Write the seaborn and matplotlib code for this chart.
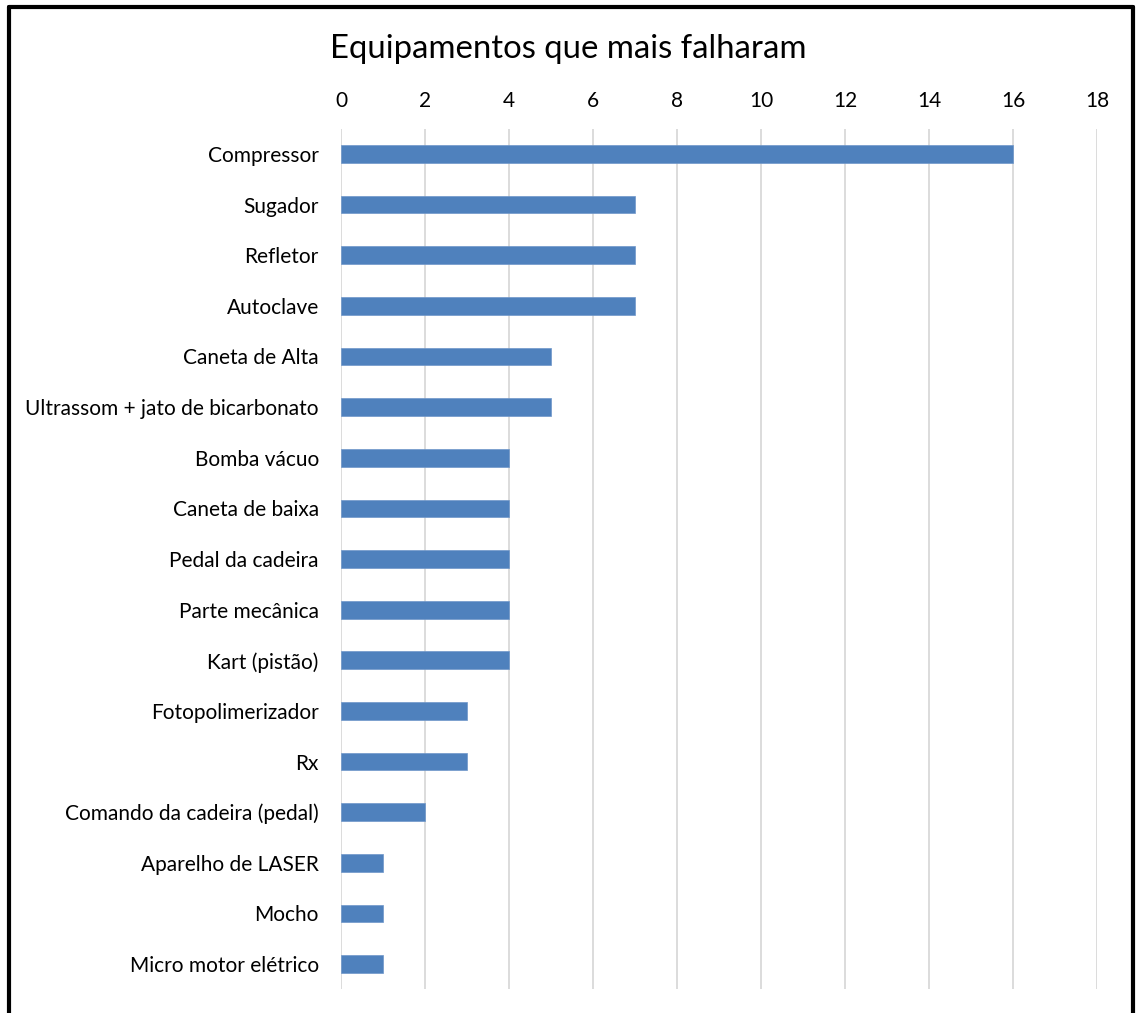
import matplotlib
matplotlib.use("Agg")
import matplotlib.pyplot as plt
import seaborn as sns
import pandas as pd
from matplotlib.lines import Line2D

equipamentos = [
    "Compressor", "Sugador", "Refletor", "Autoclave", "Caneta de Alta",
    "Ultrassom + jato de bicarbonato", "Bomba vácuo", "Caneta de baixa",
    "Pedal da cadeira", "Parte mecânica", "Kart (pistão)", "Fotopolimerizador",
    "Rx", "Comando da cadeira (pedal)", "Aparelho de LASER", "Mocho",
    "Micro motor elétrico",
]
falhas = [16, 7, 7, 7, 5, 5, 4, 4, 4, 4, 4, 3, 3, 2, 1, 1, 1]
x_ticks = [0, 2, 4, 6, 8, 10, 12, 14, 16, 18]

df = pd.DataFrame({"Equipamento": equipamentos, "Falhas": falhas})

sns.set_theme(style="white")
plt.rcParams["font.family"] = ["Lato", "DejaVu Sans"]

fig = plt.figure(figsize=(11.37, 10.13), dpi=100)
ax = fig.add_axes([0.2999, 0.0233, 0.6649, 0.8497])

sns.barplot(data=df, x="Falhas", y="Equipamento", orient="h",
            color="#4f81bd", saturation=1, width=0.35, ax=ax,
            edgecolor="#6f96c9", linewidth=0.5, zorder=3)

ax.set_xlim(0, 18)
ax.set_xticks(x_ticks)
ax.xaxis.tick_top()
ax.tick_params(axis="x", length=0, pad=13, labelsize=15, colors="black")
ax.tick_params(axis="y", length=0, pad=16, labelsize=15, colors="black")
ax.grid(axis="x", color="#d9d9d9", linewidth=1.3, zorder=0)
ax.grid(axis="y", visible=False)
ax.set_axisbelow(True)
for s in ax.spines.values():
    s.set_visible(False)
ax.set_xlabel("")
ax.set_ylabel("")

fig.text(0.5, 0.952, "Equipamentos que mais falharam", ha="center", va="center",
         fontsize=23.7, color="black")

# frame on left, top and right of the chart area
frame_kw = dict(color="black", linewidth=3.0, transform=fig.transFigure)
fig.add_artist(Line2D([0.0079, 0.0079], [0.0, 0.9935], **frame_kw))
fig.add_artist(Line2D([0.0079, 0.9963], [0.9935, 0.9935], **frame_kw))
fig.add_artist(Line2D([0.9963, 0.9963], [0.0, 0.9935], **frame_kw))

fig.savefig("out.png", dpi=100, facecolor="white")
